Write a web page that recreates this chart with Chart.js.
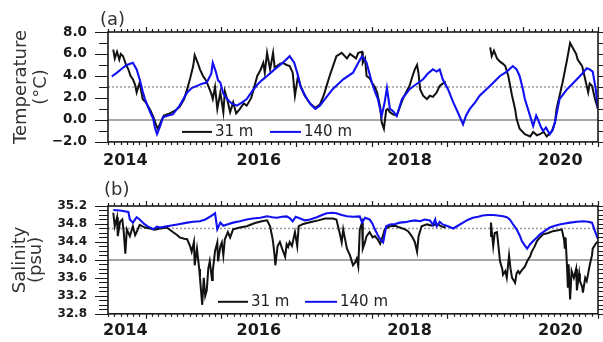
<!DOCTYPE html>
<html>
<head>
  <title>Temperature and salinity, 31 m and 140 m</title>
  <script src="https://cdn.jsdelivr.net/npm/chart.js"></script>
  <style>
    body { margin: 0; background: #fff; }
    .panel { position: absolute; left: 0; width: 603px; height: 171px; }
  </style>
</head>
<body>
  <div class="panel" style="top:0"><canvas id="tempChart"></canvas></div>
  <div class="panel" style="top:171px"><canvas id="salChart"></canvas></div>

  <script>
    // time axis (decimal years)
    const years = [2014, 2016, 2018, 2020];
    const xMin = 2014.0, xMax = 2020.5;

    // (a) temperature, degC
    const tempTicks = [-2, 0, 2, 4, 6, 8];
    const tempZero = 0;
    const tempMean = 3.0;
    const temp31 = [
      [2014.07,6.4],[2014.09,5.6],[2014.12,6.2],[2014.15,5.5],[2014.17,6.0],[2014.2,5.8],[2014.24,5.0],[2014.27,4.6],
      [2014.3,4.0],[2014.33,3.7],[2014.36,3.2],[2014.38,2.5],[2014.42,3.4],[2014.46,1.9],[2014.5,1.6],[2014.56,0.9],
      [2014.6,0.3],[2014.64,-0.5],[2014.66,-0.8],[2014.7,-0.2],[2014.74,0.4],[2014.82,0.6],[2014.9,0.9],[2014.95,1.2],
      [2015.01,1.9],[2015.05,2.8],[2015.09,3.8],[2015.13,4.9],[2015.15,5.9],[2015.19,5.2],[2015.22,4.6],[2015.26,4.0],
      [2015.3,3.6],[2015.33,3.1],[2015.37,2.4],[2015.39,1.9],[2015.42,3.0],[2015.45,1.0],[2015.49,2.5],[2015.53,0.7],
      [2015.55,2.6],[2015.58,1.9],[2015.62,0.7],[2015.66,1.6],[2015.7,0.6],[2015.75,1.0],[2015.8,1.5],[2015.84,1.3],
      [2015.9,2.0],[2015.92,2.5],[2015.98,4.0],[2016.02,4.5],[2016.06,5.2],[2016.08,4.3],[2016.11,6.1],[2016.15,4.6],
      [2016.19,6.1],[2016.21,4.8],[2016.24,4.9],[2016.28,5.1],[2016.32,5.2],[2016.37,5.0],[2016.41,4.9],[2016.45,4.3],
      [2016.48,2.2],[2016.52,4.0],[2016.56,3.0],[2016.61,2.2],[2016.68,1.5],[2016.75,1.1],[2016.81,1.4],[2016.86,2.2],
      [2016.9,3.1],[2016.94,4.0],[2016.97,4.6],[2017.01,5.4],[2017.03,5.8],[2017.1,6.1],[2017.17,5.6],[2017.21,6.0],
      [2017.25,5.8],[2017.29,5.6],[2017.32,6.1],[2017.37,6.2],[2017.38,5.2],[2017.41,5.6],[2017.43,4.0],[2017.47,3.8],
      [2017.5,3.4],[2017.54,3.0],[2017.57,2.5],[2017.61,1.2],[2017.63,-0.2],[2017.66,-0.8],[2017.69,0.9],[2017.71,1.0],
      [2017.74,0.7],[2017.78,0.5],[2017.83,0.4],[2017.91,1.9],[2017.96,2.6],[2018.0,3.1],[2018.04,4.0],[2018.07,4.6],
      [2018.1,5.0],[2018.12,4.2],[2018.14,2.8],[2018.18,2.2],[2018.23,1.9],[2018.27,2.2],[2018.31,2.1],[2018.36,2.5],
      [2018.4,3.1],[2018.44,3.3],[2018.48,3.5],[2018.6,null],
      [2019.07,6.6],[2019.09,5.8],[2019.12,6.3],[2019.16,5.6],[2019.2,5.3],[2019.24,5.1],[2019.27,4.9],[2019.31,4.0],
      [2019.36,2.2],[2019.4,1.0],[2019.42,0.1],[2019.46,-0.8],[2019.53,-1.3],[2019.6,-1.5],[2019.64,-1.1],[2019.69,-1.4],
      [2019.73,-1.3],[2019.78,-1.1],[2019.82,-1.5],[2019.89,-1.0],[2019.93,-0.2],[2019.95,1.0],[2019.99,2.2],[2020.03,3.4],
      [2020.09,5.5],[2020.13,7.0],[2020.17,6.5],[2020.21,6.0],[2020.23,5.5],[2020.29,4.9],[2020.33,3.7],[2020.37,2.5],
      [2020.39,3.3],[2020.42,3.1],[2020.46,1.9],[2020.5,1.0]
    ];
    const temp140 = [
      [2014.05,3.95],[2014.12,4.3],[2014.19,4.7],[2014.25,5.0],[2014.33,5.2],[2014.38,4.6],[2014.42,3.7],[2014.46,2.6],
      [2014.49,1.9],[2014.56,0.7],[2014.6,0.1],[2014.62,-0.65],[2014.65,-1.3],[2014.69,-0.6],[2014.73,0.25],[2014.8,0.4],
      [2014.86,0.5],[2014.95,1.3],[2015.05,2.5],[2015.11,2.9],[2015.18,3.1],[2015.25,3.3],[2015.31,3.4],[2015.37,4.2],
      [2015.39,5.2],[2015.43,4.4],[2015.46,3.6],[2015.49,3.4],[2015.53,2.4],[2015.58,1.9],[2015.64,1.5],[2015.71,1.3],
      [2015.78,1.6],[2015.84,1.9],[2015.91,2.6],[2015.98,3.2],[2016.04,3.6],[2016.11,4.0],[2016.21,4.6],[2016.32,5.2],
      [2016.41,5.8],[2016.47,5.2],[2016.51,4.3],[2016.55,3.1],[2016.6,2.4],[2016.64,1.9],[2016.69,1.4],[2016.75,1.0],
      [2016.81,1.3],[2016.89,2.0],[2016.98,2.8],[2017.12,3.7],[2017.25,4.3],[2017.32,5.2],[2017.37,5.8],[2017.43,5.2],
      [2017.5,3.4],[2017.54,2.6],[2017.58,1.9],[2017.63,0.35],[2017.67,1.6],[2017.7,2.9],[2017.74,1.0],[2017.78,0.8],
      [2017.83,0.35],[2017.9,1.9],[2018.0,2.8],[2018.08,3.2],[2018.18,3.7],[2018.24,4.2],[2018.31,4.6],[2018.36,4.4],
      [2018.4,4.6],[2018.44,3.7],[2018.51,2.8],[2018.58,1.6],[2018.64,0.7],[2018.71,-0.4],[2018.75,0.4],[2018.8,1.0],
      [2018.87,1.6],[2018.93,2.2],[2019.07,3.1],[2019.2,4.0],[2019.29,4.4],[2019.37,4.9],[2019.42,4.6],[2019.46,4.0],
      [2019.5,2.9],[2019.53,1.9],[2019.6,0.35],[2019.64,-0.55],[2019.68,0.4],[2019.7,0.1],[2019.74,-0.6],[2019.77,-1.0],
      [2019.81,-0.7],[2019.86,-1.3],[2019.9,-0.9],[2019.93,-0.2],[2019.99,1.9],[2020.09,2.8],[2020.15,3.2],[2020.22,3.7],
      [2020.29,4.2],[2020.35,4.7],[2020.39,4.6],[2020.43,4.4],[2020.47,2.8],[2020.5,1.0]
    ];

    // (b) salinity, psu
    const salTicks = [32.8, 33.2, 33.6, 34.0, 34.4, 34.8, 35.2];
    const salRef = 34.0;
    const salMean = 34.7;
    const sal31 = [
      [2014.07,35.05],[2014.09,34.75],[2014.12,34.95],[2014.13,34.53],[2014.16,34.85],[2014.19,34.9],[2014.21,34.6],[2014.23,34.14],
      [2014.25,34.68],[2014.29,34.53],[2014.33,34.75],[2014.36,34.55],[2014.38,34.62],[2014.42,34.78],[2014.49,34.72],[2014.56,34.7],
      [2014.62,34.67],[2014.69,34.7],[2014.78,34.72],[2014.86,34.62],[2014.92,34.55],[2014.95,34.5],[2015.01,34.47],[2015.05,34.46],
      [2015.09,34.3],[2015.11,34.18],[2015.14,34.4],[2015.15,33.88],[2015.18,34.25],[2015.21,33.8],[2015.22,33.6],[2015.25,33.0],
      [2015.27,33.6],[2015.29,33.2],[2015.31,33.32],[2015.33,33.8],[2015.35,33.97],[2015.38,33.55],[2015.39,33.75],[2015.42,34.2],
      [2015.45,34.39],[2015.46,33.97],[2015.49,34.3],[2015.51,34.39],[2015.53,34.1],[2015.55,34.46],[2015.59,34.62],[2015.62,34.5],
      [2015.66,34.68],[2015.75,34.72],[2015.84,34.75],[2015.95,34.82],[2016.04,34.86],[2016.11,34.88],[2016.15,34.75],[2016.18,34.5],
      [2016.19,34.39],[2016.21,34.1],[2016.22,33.88],[2016.25,34.31],[2016.28,34.4],[2016.31,34.25],[2016.35,34.07],[2016.37,34.35],
      [2016.39,34.29],[2016.41,34.4],[2016.44,34.31],[2016.48,34.62],[2016.51,34.31],[2016.53,34.75],[2016.59,34.8],[2016.68,34.84],
      [2016.79,34.88],[2016.88,34.92],[2016.98,34.92],[2017.03,34.9],[2017.07,34.62],[2017.1,34.39],[2017.12,34.68],[2017.14,34.5],
      [2017.17,34.25],[2017.21,34.1],[2017.25,33.88],[2017.28,33.95],[2017.3,34.03],[2017.32,33.86],[2017.34,34.68],[2017.37,34.83],
      [2017.38,34.25],[2017.41,34.4],[2017.43,34.53],[2017.47,34.62],[2017.51,34.5],[2017.54,34.53],[2017.58,34.45],[2017.61,34.36],
      [2017.65,34.55],[2017.67,34.68],[2017.74,34.75],[2017.81,34.76],[2017.87,34.72],[2017.94,34.68],[2017.98,34.64],[2018.02,34.55],
      [2018.04,34.5],[2018.07,34.4],[2018.1,34.18],[2018.12,34.53],[2018.16,34.75],[2018.23,34.79],[2018.3,34.76],[2018.36,34.8],
      [2018.43,34.74],[2018.48,34.72],[2018.6,null],
      [2019.07,34.53],[2019.08,34.83],[2019.11,34.31],[2019.13,34.6],[2019.16,34.62],[2019.18,34.3],[2019.2,33.97],[2019.23,33.8],
      [2019.24,33.67],[2019.27,33.75],[2019.29,33.6],[2019.32,34.1],[2019.34,33.8],[2019.36,33.6],[2019.38,33.55],[2019.4,33.49],
      [2019.42,33.7],[2019.44,33.75],[2019.46,33.7],[2019.49,33.77],[2019.53,33.85],[2019.56,33.97],[2019.6,34.08],[2019.62,34.18],
      [2019.66,34.3],[2019.69,34.42],[2019.73,34.5],[2019.77,34.57],[2019.84,34.6],[2019.9,34.64],[2019.97,34.66],[2020.02,34.68],
      [2020.05,34.45],[2020.06,34.25],[2020.07,34.5],[2020.09,33.82],[2020.1,33.38],[2020.11,33.9],[2020.13,33.12],[2020.15,33.75],
      [2020.18,33.6],[2020.21,33.8],[2020.22,33.32],[2020.25,33.7],[2020.26,33.53],[2020.29,33.4],[2020.3,33.27],[2020.33,33.6],
      [2020.35,33.53],[2020.37,33.7],[2020.39,33.88],[2020.42,34.1],[2020.43,34.25],[2020.47,34.36],[2020.5,34.42]
    ];
    const sal140 = [
      [2014.07,35.11],[2014.16,35.1],[2014.27,35.07],[2014.29,34.9],[2014.33,34.83],[2014.38,34.95],[2014.42,34.9],[2014.48,34.8],
      [2014.52,34.75],[2014.56,34.72],[2014.6,34.68],[2014.65,34.74],[2014.69,34.72],[2014.78,34.75],[2014.92,34.79],[2015.05,34.83],
      [2015.13,34.85],[2015.22,34.86],[2015.29,34.9],[2015.35,34.96],[2015.39,35.0],[2015.42,35.04],[2015.45,34.68],[2015.49,34.83],
      [2015.53,34.76],[2015.58,34.79],[2015.66,34.83],[2015.75,34.86],[2015.84,34.9],[2015.92,34.92],[2016.02,34.94],[2016.11,34.97],
      [2016.18,34.95],[2016.24,34.94],[2016.31,34.96],[2016.37,34.97],[2016.41,34.93],[2016.45,34.86],[2016.49,34.96],[2016.55,34.92],
      [2016.61,34.88],[2016.68,34.9],[2016.77,34.95],[2016.84,35.0],[2016.9,35.04],[2016.98,35.05],[2017.03,35.04],[2017.1,35.0],
      [2017.17,34.97],[2017.25,34.96],[2017.34,34.97],[2017.37,34.83],[2017.41,34.94],[2017.47,34.9],[2017.51,34.8],[2017.54,34.68],
      [2017.58,34.55],[2017.61,34.46],[2017.65,34.39],[2017.69,34.75],[2017.74,34.79],[2017.81,34.8],[2017.87,34.83],[2017.94,34.84],
      [2018.0,34.86],[2018.07,34.88],[2018.14,34.86],[2018.2,34.9],[2018.27,34.88],[2018.31,34.78],[2018.34,34.9],[2018.36,34.75],
      [2018.4,34.85],[2018.44,34.79],[2018.51,34.75],[2018.58,34.7],[2018.64,34.76],[2018.71,34.83],[2018.77,34.89],[2018.84,34.94],
      [2018.91,34.96],[2018.97,34.99],[2019.04,35.0],[2019.11,35.0],[2019.17,34.99],[2019.24,34.97],[2019.29,34.95],[2019.33,34.9],
      [2019.37,34.8],[2019.42,34.68],[2019.46,34.55],[2019.49,34.42],[2019.53,34.32],[2019.56,34.25],[2019.6,34.35],[2019.64,34.42],
      [2019.69,34.5],[2019.73,34.57],[2019.8,34.65],[2019.86,34.72],[2019.93,34.76],[2019.99,34.79],[2020.06,34.81],[2020.13,34.83],
      [2020.22,34.85],[2020.3,34.86],[2020.37,34.85],[2020.42,34.83],[2020.46,34.64],[2020.5,34.46]
    ];

    const FONT = 'DejaVu Sans';
    const BLACK = '#111111';
    const BLUE = '#1010f0';

    function toPoints(arr) {
      return arr.map(p => ({ x: p[0], y: p[1] }));
    }

    function fmt(v) {
      return (v < 0 ? '\u2212' : '') + Math.abs(v).toFixed(1);
    }

    // horizontal guide line across the whole time range
    function guide(y, dash, color, width) {
      return {
        data: [{ x: xMin, y: y }, { x: xMax, y: y }],
        borderColor: color, borderWidth: width, borderDash: dash,
        pointRadius: 0, order: 3
      };
    }

    // frame, outward tick marks, in-plot legend and panel letter
    const decorations = {
      id: 'decorations',
      afterDatasetsDraw(chart, args, opts) {
        const ctx = chart.ctx;
        const a = chart.chartArea;
        const xs = chart.scales.x, ys = chart.scales.y;
        ctx.save();
        ctx.strokeStyle = '#1a1a1a';
        ctx.lineWidth = 1.2;
        ctx.beginPath();
        // monthly ticks, longer at mid-year
        const months = Math.round((xMax - xMin) * 12);
        for (let m = 0; m <= months; m++) {
          const px = Math.round(xs.getPixelForValue(xMin + m / 12)) + 0.5;
          const len = (m % 12 === 6) ? 5 : 3;
          ctx.moveTo(px, a.bottom); ctx.lineTo(px, a.bottom + len);
          ctx.moveTo(px, a.top); ctx.lineTo(px, a.top - len);
        }
        // y ticks, left and right
        const n = Math.round((ys.max - ys.min) / opts.minorStep);
        for (let i = 0; i <= n; i++) {
          const v = ys.min + i * opts.minorStep;
          const py = Math.round(ys.getPixelForValue(v)) + 0.5;
          const major = (i % opts.majorEvery === 0);
          ctx.moveTo(a.left, py); ctx.lineTo(a.left - (major ? 13 : 9), py);
          ctx.moveTo(a.right, py); ctx.lineTo(a.right + 5, py);
        }
        ctx.stroke();

        ctx.lineWidth = 1.6;
        ctx.strokeRect(a.left, a.top, a.right - a.left, a.bottom - a.top);

        // legend
        const ly = a.bottom - opts.legendLift;
        ctx.lineWidth = 2;
        ctx.font = '15px "' + FONT + '"';
        ctx.textBaseline = 'middle';
        ctx.textAlign = 'left';
        opts.legend.forEach(item => {
          ctx.strokeStyle = item.color;
          ctx.beginPath();
          ctx.moveTo(item.x0, ly); ctx.lineTo(item.x1, ly);
          ctx.stroke();
          ctx.fillStyle = '#222';
          ctx.fillText(item.label, item.x1 + 3, ly);
        });

        // panel letter
        ctx.font = '18px "' + FONT + '"';
        ctx.fillStyle = '#333';
        ctx.fillText(opts.letter, opts.letterX, opts.letterY);
        ctx.restore();
      }
    };

    function makeChart(id, cfg) {
      const ctx = document.getElementById(id).getContext('2d');
      return new Chart(ctx, {
        type: 'line',
        data: {
          datasets: [
            { label: '140 m', data: toPoints(cfg.deep), borderColor: BLUE, borderWidth: 2.1, pointRadius: 0, tension: 0, spanGaps: false, order: 0 },
            { label: '31 m', data: toPoints(cfg.shallow), borderColor: BLACK, borderWidth: 2, pointRadius: 0, tension: 0, spanGaps: false, order: 1 },
            guide(cfg.zero, [], '#8a8a8a', 1.5),
            guide(cfg.mean, [2, 2], '#9a9a9a', 1.5)
          ]
        },
        options: {
          responsive: true,
          maintainAspectRatio: false,
          animation: false,
          events: [],
          layout: { padding: { top: cfg.padTop, right: 5, left: 0, bottom: 0 } },
          plugins: {
            legend: { display: false },
            tooltip: { enabled: false },
            decorations: {
              minorStep: cfg.minorStep, majorEvery: cfg.majorEvery,
              legendLift: cfg.legendLift, legend: cfg.legend,
              letter: cfg.letter, letterX: cfg.letterX, letterY: cfg.letterY
            }
          },
          scales: {
            x: {
              type: 'linear', min: xMin, max: xMax,
              afterBuildTicks: s => {
                // keep the first year label clear of the left frame
                s.ticks = years.map(v => ({ value: v === xMin ? v + 0.23 : v }));
              },
              afterFit: s => { s.height = cfg.xAxisHeight; },
              grid: { display: false, drawTicks: false },
              border: { display: false },
              ticks: {
                padding: cfg.xPad, maxRotation: 0, autoSkip: false, color: '#1a1a1a',
                font: { family: FONT, size: 16, weight: 'bold' },
                callback: (v, i) => String(years[i])
              }
            },
            y: {
              min: cfg.yTicks[0], max: cfg.yTicks[cfg.yTicks.length - 1],
              afterBuildTicks: s => { s.ticks = cfg.yTicks.map(v => ({ value: v })); },
              afterFit: s => { s.width = 108; },
              grid: { display: false, drawTicks: false },
              border: { display: false },
              ticks: {
                padding: 21, color: '#1a1a1a',
                font: { family: FONT, size: cfg.yFont, weight: 'bold' },
                callback: v => fmt(v)
              },
              title: {
                display: true, text: cfg.title, color: '#333',
                font: { family: FONT, size: 18, lineHeight: cfg.titleLine / 18 },
                padding: { top: cfg.titlePad, bottom: 0 }
              }
            }
          }
        },
        plugins: [decorations]
      });
    }

    makeChart('tempChart', {
      shallow: temp31, deep: temp140, zero: tempZero, mean: tempMean,
      yTicks: tempTicks, minorStep: 1, majorEvery: 2, yFont: 13.5,
      title: ['Temperature', '(\u00B0C)'], titleLine: 20, titlePad: 11,
      padTop: 32, xAxisHeight: 28, xPad: 9,
      legendLift: 10,
      legend: [
        { label: '31 m', color: BLACK, x0: 182, x1: 212 },
        { label: '140 m', color: BLUE, x0: 270, x1: 301 }
      ],
      letter: '(a)', letterX: 100, letterY: 20
    });

    makeChart('salChart', {
      shallow: sal31, deep: sal140, zero: salRef, mean: salMean,
      yTicks: salTicks, minorStep: 0.1, majorEvery: 4, yFont: 12,
      title: ['Salinity', '(psu)'], titleLine: 16, titlePad: 12.5,
      padTop: 35, xAxisHeight: 25, xPad: 7,
      legendLift: 12,
      legend: [
        { label: '31 m', color: BLACK, x0: 218, x1: 248 },
        { label: '140 m', color: BLUE, x0: 305, x1: 337 }
      ],
      letter: '(b)', letterX: 104, letterY: 19
    });
  </script>
</body>
</html>
